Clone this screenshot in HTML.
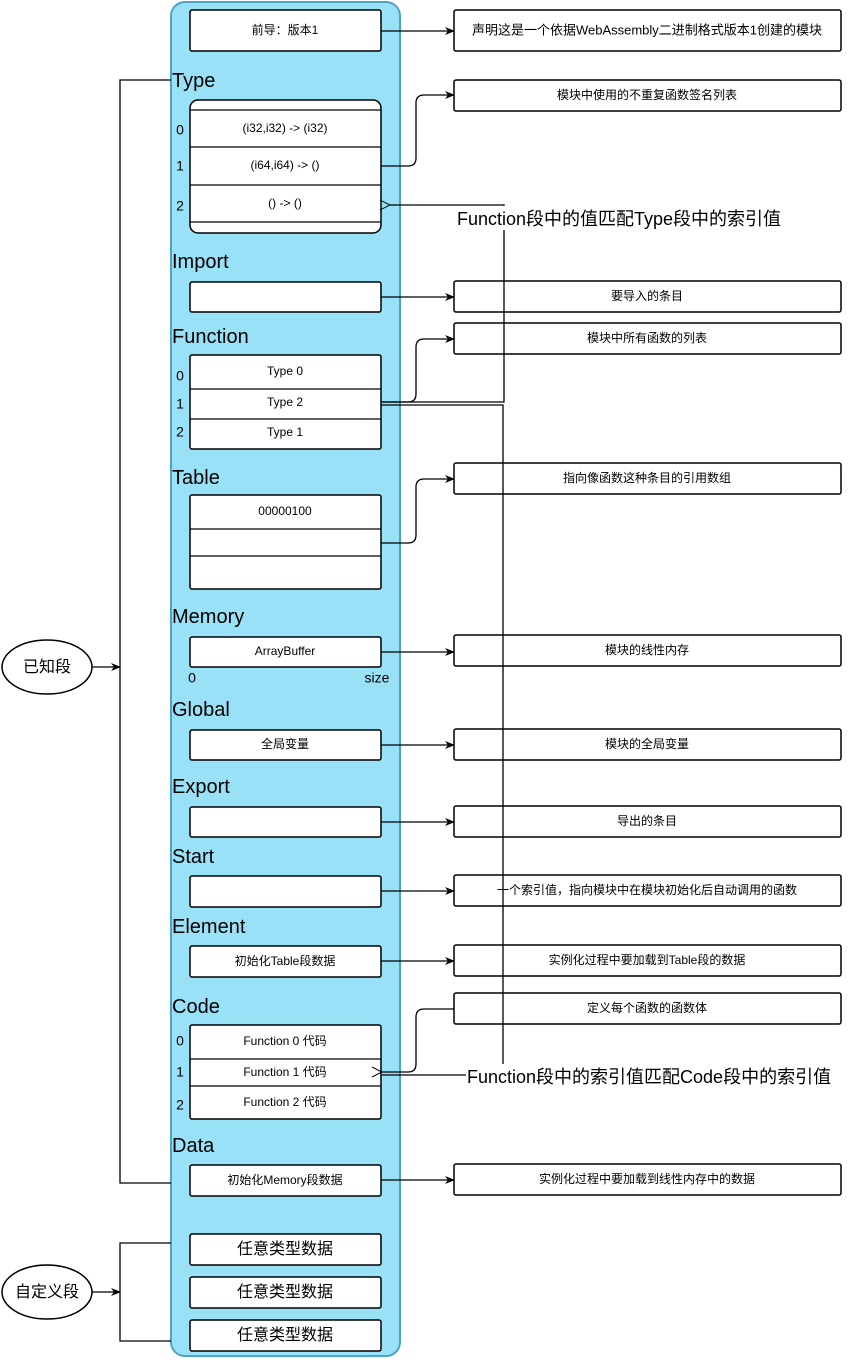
<!DOCTYPE html>
<html><head><meta charset="utf-8"><style>
body{margin:0;background:#fff}
svg text{font-family:"Liberation Sans","Noto Sans CJK SC",sans-serif;fill:#000}
.s{font-size:12px;text-anchor:middle;dominant-baseline:middle}
.h{font-size:20px}
.i{font-size:14px;text-anchor:middle;dominant-baseline:middle}
.b{fill:#fff;stroke:#000;stroke-width:1.5}
.l{fill:none;stroke:#000;stroke-width:1.3}
</style></head><body>
<svg width="849" height="1358" viewBox="0 0 849 1358" xmlns="http://www.w3.org/2000/svg">
<defs>
<marker id="a" markerWidth="10" markerHeight="10" refX="9" refY="5" orient="auto" markerUnits="userSpaceOnUse"><path d="M0,1 L10,5 L0,9 L3,5 z" fill="#000"/></marker>
<marker id="o" markerWidth="12" markerHeight="12" refX="1" refY="6" orient="auto" markerUnits="userSpaceOnUse"><path d="M11,1 L1,6 L11,11" fill="none" stroke="#000"/></marker>
</defs>
<rect x="171" y="2" width="229" height="1354" rx="14" fill="#99e1f7" stroke="#4ea3c4" stroke-width="2"/>
<!-- left brackets -->
<path class="l" d="M171,80 H120 V1183 H171"/>
<path class="l" d="M171,1243 H120 V1341 H171"/>
<ellipse cx="47" cy="667" rx="45" ry="27" class="b"/>
<text x="47" y="668" class="i" style="font-size:16px">已知段</text>
<line class="l" x1="92" y1="667" x2="120" y2="667" marker-end="url(#a)"/>
<ellipse cx="47" cy="1292" rx="45" ry="27" class="b"/>
<text x="47" y="1293" class="i" style="font-size:16px">自定义段</text>
<line class="l" x1="92" y1="1292" x2="120" y2="1292" marker-end="url(#a)"/>

<!-- labels -->
<text x="172" y="87" class="h">Type</text>
<text x="172" y="268" class="h">Import</text>
<text x="172" y="343" class="h">Function</text>
<text x="172" y="484" class="h">Table</text>
<text x="172" y="623" class="h">Memory</text>
<text x="172" y="716" class="h">Global</text>
<text x="172" y="793" class="h">Export</text>
<text x="172" y="863" class="h">Start</text>
<text x="172" y="933" class="h">Element</text>
<text x="172" y="1013" class="h">Code</text>
<text x="172" y="1152" class="h">Data</text>

<!-- left boxes -->
<rect x="190" y="10" width="191" height="41" class="b" rx="2"/><text x="285" y="31" class="s">前导：版本1</text>
<rect x="190" y="100" width="191" height="133" class="b" rx="8"/>
<path class="l" d="M190,110H381M190,147H381M190,185H381M190,222H381"/>
<text x="285" y="129" class="s">(i32,i32) -&gt; (i32)</text>
<text x="285" y="166" class="s">(i64,i64) -&gt; ()</text>
<text x="285" y="204" class="s">() -&gt; ()</text>
<text x="180" y="131" class="i">0</text><text x="180" y="167" class="i">1</text><text x="180" y="207" class="i">2</text>
<rect x="190" y="282" width="191" height="30" class="b" rx="2"/>
<rect x="190" y="355" width="191" height="94" class="b" rx="2"/>
<path class="l" d="M190,389H381M190,419H381"/>
<text x="285" y="372" class="s">Type 0</text><text x="285" y="403" class="s">Type 2</text><text x="285" y="433" class="s">Type 1</text>
<text x="180" y="377" class="i">0</text><text x="180" y="405" class="i">1</text><text x="180" y="433" class="i">2</text>
<rect x="190" y="495" width="191" height="94" class="b" rx="2"/>
<path class="l" d="M190,529H381M190,556H381"/>
<text x="285" y="512" class="s">00000100</text>
<rect x="190" y="637" width="191" height="30" class="b" rx="2"/><text x="285" y="652" class="s">ArrayBuffer</text>
<text x="192" y="679" class="i">0</text><text x="377" y="679" class="i">size</text>
<rect x="190" y="730" width="191" height="30" class="b" rx="2"/><text x="285" y="745" class="s">全局变量</text>
<rect x="190" y="807" width="191" height="30" class="b" rx="2"/>
<rect x="190" y="876" width="191" height="31" class="b" rx="2"/>
<rect x="190" y="946" width="191" height="31" class="b" rx="2"/><text x="285" y="962" class="s">初始化Table段数据</text>
<rect x="190" y="1025" width="191" height="94" class="b" rx="2"/>
<path class="l" d="M190,1059H381M190,1086H381"/>
<text x="285" y="1042" class="s">Function 0 代码</text><text x="285" y="1073" class="s">Function 1 代码</text><text x="285" y="1103" class="s">Function 2 代码</text>
<text x="180" y="1042" class="i">0</text><text x="180" y="1073" class="i">1</text><text x="180" y="1106" class="i">2</text>
<rect x="190" y="1165" width="191" height="31" class="b" rx="2"/><text x="285" y="1181" class="s">初始化Memory段数据</text>
<rect x="190" y="1234" width="191" height="31" class="b" rx="2"/><text x="285" y="1250" class="i" style="font-size:16px">任意类型数据</text>
<rect x="190" y="1277" width="191" height="31" class="b" rx="2"/><text x="285" y="1293" class="i" style="font-size:16px">任意类型数据</text>
<rect x="190" y="1320" width="191" height="31" class="b" rx="2"/><text x="285" y="1336" class="i" style="font-size:16px">任意类型数据</text>

<!-- right boxes -->
<g>
<rect x="454" y="10" width="387" height="41" class="b" rx="2"/><text x="647" y="31" class="s" style="font-size:13px">声明这是一个依据WebAssembly二进制格式版本1创建的模块</text>
<rect x="454" y="80" width="387" height="31" class="b" rx="2"/><text x="647" y="96" class="s">模块中使用的不重复函数签名列表</text>
<rect x="454" y="281" width="387" height="31" class="b" rx="2"/><text x="647" y="297" class="s">要导入的条目</text>
<rect x="454" y="323" width="387" height="31" class="b" rx="2"/><text x="647" y="339" class="s">模块中所有函数的列表</text>
<rect x="454" y="463" width="387" height="31" class="b" rx="2"/><text x="647" y="479" class="s">指向像函数这种条目的引用数组</text>
<rect x="454" y="635" width="387" height="31" class="b" rx="2"/><text x="647" y="651" class="s">模块的线性内存</text>
<rect x="454" y="729" width="387" height="31" class="b" rx="2"/><text x="647" y="745" class="s">模块的全局变量</text>
<rect x="454" y="806" width="387" height="31" class="b" rx="2"/><text x="647" y="822" class="s">导出的条目</text>
<rect x="454" y="875" width="387" height="31" class="b" rx="2"/><text x="647" y="891" class="s">一个索引值，指向模块中在模块初始化后自动调用的函数</text>
<rect x="454" y="945" width="387" height="31" class="b" rx="2"/><text x="647" y="961" class="s">实例化过程中要加载到Table段的数据</text>
<rect x="454" y="993" width="387" height="31" class="b" rx="2"/><text x="647" y="1009" class="s">定义每个函数的函数体</text>
<rect x="454" y="1164" width="387" height="31" class="b" rx="2"/><text x="647" y="1180" class="s">实例化过程中要加载到线性内存中的数据</text>
</g>

<!-- connectors -->
<line class="l" x1="381" y1="31" x2="454" y2="31" marker-end="url(#a)"/>
<path class="l" d="M381,166 H408 Q416,166 416,158 V103 Q416,95 424,95 H454" marker-end="url(#a)"/>
<line class="l" x1="381" y1="297" x2="454" y2="297" marker-end="url(#a)"/>
<path class="l" d="M381,402 H408 Q416,402 416,394 V347 Q416,339 424,339 H454" marker-end="url(#a)"/>
<path class="l" d="M381,543 H408 Q416,543 416,535 V487 Q416,479 424,479 H454" marker-end="url(#a)"/>
<line class="l" x1="381" y1="652" x2="454" y2="652" marker-end="url(#a)"/>
<line class="l" x1="381" y1="745" x2="454" y2="745" marker-end="url(#a)"/>
<line class="l" x1="381" y1="822" x2="454" y2="822" marker-end="url(#a)"/>
<line class="l" x1="381" y1="891" x2="454" y2="891" marker-end="url(#a)"/>
<line class="l" x1="381" y1="961" x2="454" y2="961" marker-end="url(#a)"/>
<line class="l" x1="381" y1="1180" x2="454" y2="1180" marker-end="url(#a)"/>
<path class="l" d="M454,1009 H424 Q416,1009 416,1017 V1064 Q416,1072 408,1072 H382" marker-end="url(#o)"/>
<path class="l" d="M381,402 H504 V205 H390" marker-end="url(#o)"/>
<path class="l" d="M381,405 H503 V1075 H382"/>
<rect x="456" y="206" width="336" height="24" fill="#fff"/>
<text x="457" y="225" style="font-size:18px">Function段中的值匹配Type段中的索引值</text>
<rect x="466" y="1064" width="372" height="24" fill="#fff"/>
<text x="467" y="1083" style="font-size:18px">Function段中的索引值匹配Code段中的索引值</text>
</svg>
</body></html>
